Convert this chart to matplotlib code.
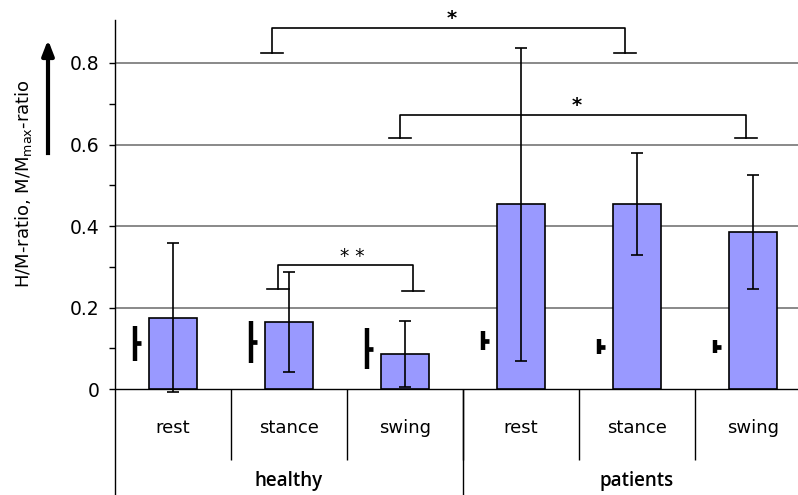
import numpy as np
import matplotlib.pyplot as plt

plt.rcParams['font.family'] = ['DejaVu Sans']

phases = ['rest', 'stance', 'swing', 'rest', 'stance', 'swing']
groups = ['healthy', 'patients']

# H/M-ratio (bars) with SD
hm_mean = [0.175, 0.165, 0.087, 0.454, 0.454, 0.385]
hm_sd = [0.183, 0.123, 0.081, 0.384, 0.124, 0.139]

# M/Mmax-ratio (small markers left of each bar) with SD
mm_mean = [0.112, 0.115, 0.099, 0.119, 0.104, 0.104]
mm_sd = [0.043, 0.051, 0.051, 0.024, 0.019, 0.016]

# significance brackets: left x, right x, left foot, right foot, top, label
brackets = [
    (0.85, 3.90, 0.825, 0.825, 0.887, '*'),
    (1.96, 4.94, 0.616, 0.616, 0.672, '*'),
    (0.905, 2.07, 0.246, 0.241, 0.305, '**'),
]

fig = plt.figure(figsize=(7.98, 4.95), dpi=100)
ax = fig.add_axes([115 / 798, 0, 696 / 798, 475 / 495])

x = np.arange(len(phases))
ymin, ymax = -0.260, 0.9055

for yg in [0.2, 0.4, 0.6, 0.8]:
    ax.axhline(yg, color='#808080', lw=1.3, zorder=0)
ax.axhline(0, color='black', lw=1.0, zorder=1)

ax.bar(x, hm_mean, width=0.41, color='#9999ff', edgecolor='black', lw=1.2, zorder=2)
ax.errorbar(x, hm_mean, yerr=hm_sd, fmt='none', ecolor='black', elinewidth=1.2,
            capsize=4.5, capthick=1.2, zorder=3)

ax.errorbar(x - 0.33, mm_mean, yerr=mm_sd, fmt='none', ecolor='black', elinewidth=3.2,
            capsize=0, zorder=3)
ax.plot(x - 0.33, mm_mean, ls='none', marker=1, markersize=4.5, mew=3.4, color='black', zorder=3)

foot = 0.095
for xl, xr, yl, yr, yt, lab in brackets:
    ax.plot([xl - foot, xl + foot], [yl, yl], color='black', lw=1.2)
    ax.plot([xr - foot, xr + foot], [yr, yr], color='black', lw=1.2)
    ax.plot([xl, xl, xr, xr], [yl, yt, yt, yr], color='black', lw=1.2)
    if lab == '*':
        ax.text((xl + xr) / 2 + 0.03, yt, lab, ha='center', va='bottom',
                fontsize=14, fontweight='bold')
    else:
        ax.text((xl + xr) / 2 + 0.06, yt - 0.004, ' '.join(lab), ha='center', va='bottom',
                fontsize=13.5)

# category axis below zero
ax.vlines(np.arange(0.5, 5.5, 1.0), -0.175, 0, color='black', lw=1.0)
ax.vlines([2.5], ymin, 0, color='black', lw=1.0)
for xi, lab in zip(x, phases):
    ax.text(xi, -0.096, lab, ha='center', va='center', fontsize=13)
for gi, lab in enumerate(groups):
    ax.text(1 + 3 * gi, -0.226, lab, ha='center', va='center', fontsize=13.5,
            family='Open Sans', fontweight='semibold')

ax.set_xlim(-0.5, 5.5)
ax.set_ylim(ymin, ymax)
ax.set_xticks([])
ax.set_yticks([0, 0.2, 0.4, 0.6, 0.8])
ax.set_yticklabels(['0', '0.2', '0.4', '0.6', '0.8'], fontsize=13.5)
ax.set_yticks([0.1, 0.3, 0.5, 0.7], minor=True)
ax.tick_params(axis='y', which='both', direction='out', length=4, width=1, pad=7)
for s in ['top', 'right', 'bottom']:
    ax.spines[s].set_visible(False)
ax.spines['left'].set_linewidth(1.0)

fig.text(24 / 798, 1 - 184 / 495, 'H/M-ratio, M/M$_{\\mathrm{max}}$-ratio', rotation=90,
         ha='center', va='center', fontsize=13)
fig.add_artist(plt.Line2D([48 / 798, 48 / 798], [1 - 153 / 495, 1 - 48 / 495], color='black', lw=3))
ax.annotate('', xy=(48 / 798, 1 - 37 / 495), xytext=(48 / 798, 1 - 60 / 495),
            xycoords='figure fraction',
            arrowprops=dict(arrowstyle='-|>,head_width=0.35,head_length=0.9', color='black', lw=3))

fig.savefig('out.png', dpi=100)
